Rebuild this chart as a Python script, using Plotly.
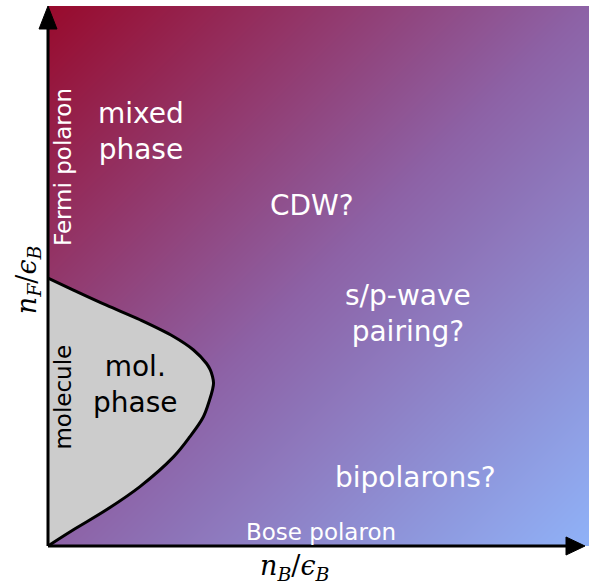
import plotly.graph_objects as go

# Phase boundary of the molecular phase (n_B/eps_B, n_F/eps_B), normalised axes 0..1
boundary_x = [0.0, 0.047, 0.108, 0.170, 0.232, 0.269, 0.293, 0.300, 0.304, 0.306,
              0.304, 0.2985, 0.287, 0.262, 0.232, 0.170, 0.108, 0.047, 0.0]
boundary_y = [0.496, 0.474, 0.446, 0.419, 0.388, 0.363, 0.338, 0.326, 0.314, 0.302,
              0.289, 0.270, 0.239, 0.202, 0.165, 0.110, 0.067, 0.030, 0.0]

# Region labels
region_text = ["mixed<br>phase", "CDW?", "s/p-wave<br>pairing?", "bipolarons?", "mol.<br>phase"]
region_x = [0.172, 0.488, 0.666, 0.680, 0.161]
region_y = [0.767, 0.630, 0.430, 0.126, 0.300]
region_color = ["white", "white", "white", "white", "black"]

# Edge labels
edge_text = ["Bose polaron", "Fermi polaron", "molecule"]
edge_x = [0.505, 0.028, 0.027]
edge_y = [0.026, 0.702, 0.276]
edge_angle = [0, -90, -90]
edge_color = ["white", "white", "black"]

# Background gradient corner values (0 = top-left red, 1 = bottom-right blue)
grad_x = [-1, 2]
grad_y = [-1, 2]
grad_z = [[0.5, 2.0], [-1.0, 0.5]]
grad_colors = [[0.0, "#980a2c"], [0.5, "#8d62a6"], [1.0, "#8fb2f8"]]

fig = go.Figure()
fig.add_trace(go.Heatmap(x=grad_x, y=grad_y, z=grad_z, zmin=0, zmax=1,
                         zsmooth="best", colorscale=grad_colors, showscale=False,
                         hoverinfo="skip"))
fig.add_trace(go.Scatter(x=boundary_x, y=boundary_y, mode="lines",
                         line=dict(color="black", width=3, shape="spline", smoothing=1.0),
                         fill="toself", fillcolor="#cccccc", hoverinfo="skip"))

for t, x, y, c in zip(region_text, region_x, region_y, region_color):
    fig.add_annotation(x=x, y=y, text=t, showarrow=False,
                       font=dict(family="DejaVu Sans", size=28, color=c))

for t, x, y, a, c in zip(edge_text, edge_x, edge_y, edge_angle, edge_color):
    fig.add_annotation(x=x, y=y, text=t, showarrow=False, textangle=a,
                       font=dict(family="DejaVu Sans", size=23, color=c))

# Axis titles
fig.add_annotation(xref="paper", yref="paper", x=0.457, y=-0.040,
                   xanchor="center", yanchor="middle",
                   text="<i>n</i><sub><i>B</i></sub>/<i>ϵ</i><sub><i>B</i></sub>", showarrow=False,
                   font=dict(family="DejaVu Serif", size=27, color="black"))
fig.add_annotation(xref="paper", yref="paper", x=-0.037, y=0.494,
                   xanchor="center", yanchor="middle",
                   text="<i>n</i><sub><i>F</i></sub>/<i>ϵ</i><sub><i>B</i></sub>", showarrow=False,
                   textangle=-90, font=dict(family="DejaVu Serif", size=27, color="black"))

# Axes with arrow heads
fig.add_shape(type="line", xref="paper", yref="paper", x0=0, y0=0, x1=0, y1=0.96,
              line=dict(color="black", width=3))
fig.add_shape(type="line", xref="paper", yref="paper", x0=0, y0=0, x1=0.96, y1=0,
              line=dict(color="black", width=3))
fig.add_shape(type="path", xref="paper", yref="paper",
              path="M -0.0166 0.9574 L 0 1 L 0.0166 0.9574 Z",
              fillcolor="black", line=dict(color="black", width=1))
fig.add_shape(type="path", xref="paper", yref="paper",
              path="M 0.9575 0.0167 L 0.9926 0 L 0.9575 -0.0167 Z",
              fillcolor="black", line=dict(color="black", width=1))

fig.update_xaxes(range=[0, 1], visible=False, fixedrange=True)
fig.update_yaxes(range=[0, 1], visible=False, fixedrange=True)
fig.update_layout(width=589, height=584, margin=dict(l=48, r=0, t=6, b=38),
                  paper_bgcolor="white", plot_bgcolor="white", showlegend=False)

fig.write_html("out.html", config={"displayModeBar": False},
               post_script="document.body.style.margin='0px';")
